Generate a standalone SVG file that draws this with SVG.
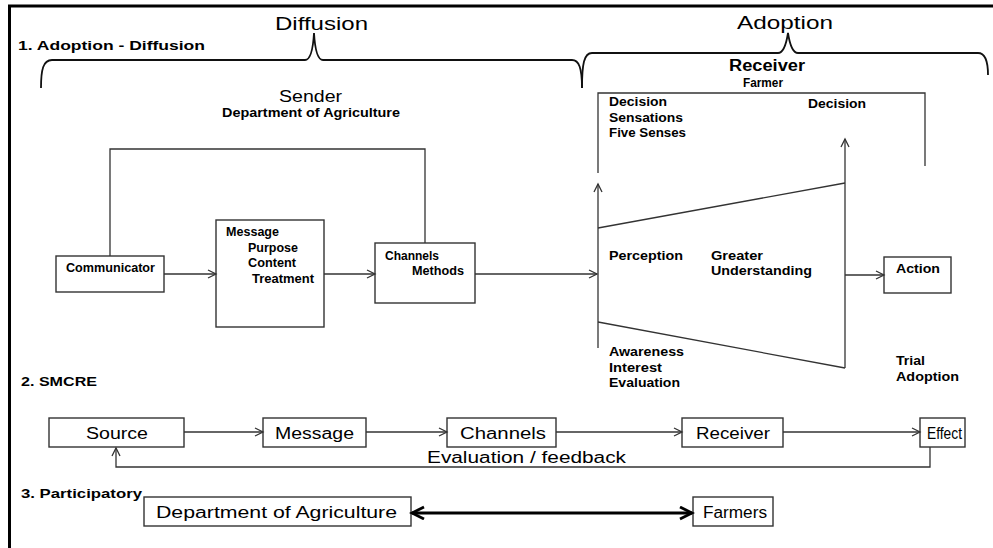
<svg xmlns="http://www.w3.org/2000/svg" width="993" height="548" viewBox="0 0 993 548">
<style>
text{font-family:"Liberation Sans",Arial,sans-serif;fill:#000}
.b{font-weight:bold;font-size:12px}
.h{font-weight:bold;font-size:13px}
.big{font-size:18px}
.m{font-size:16px}
.box{fill:#fff;stroke:#333;stroke-width:1.4}
.ln{fill:none;stroke:#333;stroke-width:1.3}
.br{fill:none;stroke:#111;stroke-width:1.8}
</style>
<defs>
<marker id="ah" markerUnits="userSpaceOnUse" markerWidth="12" markerHeight="12" refX="9" refY="5" orient="auto">
<path d="M1,1 L9,5 L1,9" fill="none" stroke="#333" stroke-width="1.3"/>
</marker>
<marker id="ahb" markerUnits="userSpaceOnUse" markerWidth="16" markerHeight="16" refX="13" refY="7" orient="auto-start-reverse">
<path d="M1,1 L13,7 L1,13" fill="none" stroke="#000" stroke-width="2.8"/>
</marker>
</defs>
<rect width="993" height="548" fill="#fff"/>
<path d="M9.5,548 L9.5,6 L993,6" fill="none" stroke="#000" stroke-width="3"/>

<g id="section1-labels">
<text class="h" x="18" y="50" textLength="187" lengthAdjust="spacingAndGlyphs">1. Adoption - Diffusion</text>
<text class="big" x="275" y="30" textLength="93" lengthAdjust="spacingAndGlyphs">Diffusion</text>
<text class="big" x="737" y="29" textLength="96" lengthAdjust="spacingAndGlyphs">Adoption</text>
<path class="br" d="M41,88 C41,70 43,60 52,60 L305,60 C310,60 313,50 314,33 C315,50 318,60 323,60 L572,60 C579,60 582,68 582,88"/>
<path class="br" d="M582,88 C582,64 584,53 592,53 L778,53 C783,53 786,46 788,33 C790,46 793,53 798,53 L978,53 C985,53 988,62 988,75"/>
</g>

<g id="sender">
<text x="279" y="102" font-size="16" textLength="63" lengthAdjust="spacingAndGlyphs">Sender</text>
<text class="b" x="222" y="117" textLength="178" lengthAdjust="spacingAndGlyphs">Department of Agriculture</text>
</g>

<g id="receiver">
<text x="729" y="71" font-size="16" font-weight="bold" textLength="76" lengthAdjust="spacingAndGlyphs">Receiver</text>
<text class="b" x="743" y="87" textLength="40" lengthAdjust="spacingAndGlyphs">Farmer</text>
</g>

<g id="communicator">
<rect class="box" x="56" y="256" width="108" height="36"/>
<text class="b" x="66" y="272" textLength="89" lengthAdjust="spacingAndGlyphs">Communicator</text>
</g>

<g id="message">
<rect class="box" x="216" y="220" width="108" height="107"/>
<text class="b" x="226" y="236" textLength="53" lengthAdjust="spacingAndGlyphs">Message</text>
<text class="b" x="248" y="252" textLength="50" lengthAdjust="spacingAndGlyphs">Purpose</text>
<text class="b" x="248" y="267" textLength="48" lengthAdjust="spacingAndGlyphs">Content</text>
<text class="b" x="252" y="283" textLength="62" lengthAdjust="spacingAndGlyphs">Treatment</text>
</g>

<g id="channels">
<rect class="box" x="375" y="243" width="100" height="60"/>
<text class="b" x="385" y="260" textLength="54" lengthAdjust="spacingAndGlyphs">Channels</text>
<text class="b" x="412" y="275" textLength="52" lengthAdjust="spacingAndGlyphs">Methods</text>
</g>

<g id="process">
<path class="ln" d="M598,228 L845,183 M598,322 L845,368"/>
<text class="b" x="609" y="106" textLength="58" lengthAdjust="spacingAndGlyphs">Decision</text>
<text class="b" x="609" y="122" textLength="74" lengthAdjust="spacingAndGlyphs">Sensations</text>
<text class="b" x="609" y="137" textLength="77" lengthAdjust="spacingAndGlyphs">Five Senses</text>
<text class="b" x="808" y="108" textLength="58" lengthAdjust="spacingAndGlyphs">Decision</text>
<text class="b" x="609" y="260" textLength="74" lengthAdjust="spacingAndGlyphs">Perception</text>
<text class="b" x="711" y="260" textLength="52" lengthAdjust="spacingAndGlyphs">Greater</text>
<text class="b" x="711" y="275" textLength="101" lengthAdjust="spacingAndGlyphs">Understanding</text>
<text class="b" x="609" y="356" textLength="75" lengthAdjust="spacingAndGlyphs">Awareness</text>
<text class="b" x="609" y="372" textLength="53" lengthAdjust="spacingAndGlyphs">Interest</text>
<text class="b" x="609" y="387" textLength="71" lengthAdjust="spacingAndGlyphs">Evaluation</text>
<text class="b" x="896" y="365" textLength="29" lengthAdjust="spacingAndGlyphs">Trial</text>
<text class="b" x="896" y="381" textLength="63" lengthAdjust="spacingAndGlyphs">Adoption</text>
</g>

<g id="action">
<rect class="box" x="884" y="257" width="67" height="36"/>
<text class="b" x="896" y="273" textLength="44" lengthAdjust="spacingAndGlyphs">Action</text>
</g>

<g id="section2-labels">
<text class="h" x="21" y="386" textLength="76" lengthAdjust="spacingAndGlyphs">2. SMCRE</text>
<text class="m" x="427" y="463" textLength="199" lengthAdjust="spacingAndGlyphs">Evaluation / feedback</text>
</g>

<g id="source">
<rect class="box" x="49" y="418" width="135" height="29"/>
<text class="m" x="86" y="439" textLength="62" lengthAdjust="spacingAndGlyphs">Source</text>
</g>
<g id="smcre-message">
<rect class="box" x="263" y="418" width="103" height="29"/>
<text class="m" x="275" y="439" textLength="79" lengthAdjust="spacingAndGlyphs">Message</text>
</g>
<g id="smcre-channels">
<rect class="box" x="447" y="418" width="109" height="29"/>
<text class="m" x="460" y="439" textLength="86" lengthAdjust="spacingAndGlyphs">Channels</text>
</g>
<g id="smcre-receiver">
<rect class="box" x="682" y="418" width="101" height="29"/>
<text class="m" x="696" y="439" textLength="74" lengthAdjust="spacingAndGlyphs">Receiver</text>
</g>
<g id="effect">
<rect class="box" x="920" y="418" width="45" height="29"/>
<text class="m" x="927" y="439" textLength="35" lengthAdjust="spacingAndGlyphs">Effect</text>
</g>

<g id="section3-labels">
<text class="h" x="21" y="498" textLength="121" lengthAdjust="spacingAndGlyphs">3. Participatory</text>
</g>
<g id="dept">
<rect class="box" x="144" y="497" width="267" height="29"/>
<text class="m" x="156" y="518" textLength="241" lengthAdjust="spacingAndGlyphs">Department of Agriculture</text>
</g>
<g id="farmers">
<rect class="box" x="693" y="497" width="80" height="29"/>
<text class="m" x="703" y="518" textLength="64" lengthAdjust="spacingAndGlyphs">Farmers</text>
</g>

<g id="connectors">
<path class="ln" d="M110,256 L110,149 L425,149 L425,243"/>
<path class="ln" d="M164,274 L216,274" marker-end="url(#ah)"/>
<path class="ln" d="M324,274 L375,274" marker-end="url(#ah)"/>
<path class="ln" d="M475,274 L597,274" marker-end="url(#ah)"/>
<path class="ln" d="M598,173 L598,93 L925,93 L925,166"/>
<path class="ln" d="M598,348 L598,184" marker-end="url(#ah)"/>
<path class="ln" d="M845,368 L845,139" marker-end="url(#ah)"/>
<path class="ln" d="M845,275 L884,275" marker-end="url(#ah)"/>
<path class="ln" d="M184,432 L263,432" marker-end="url(#ah)"/>
<path class="ln" d="M366,432 L447,432" marker-end="url(#ah)"/>
<path class="ln" d="M556,432 L682,432" marker-end="url(#ah)"/>
<path class="ln" d="M783,432 L920,432" marker-end="url(#ah)"/>
<path class="ln" d="M930,447 L930,467 L116,467 L116,448" marker-end="url(#ah)"/>
<path d="M412,513 L692,513" fill="none" stroke="#000" stroke-width="2.8" marker-start="url(#ahb)" marker-end="url(#ahb)"/>
</g>
</svg>
